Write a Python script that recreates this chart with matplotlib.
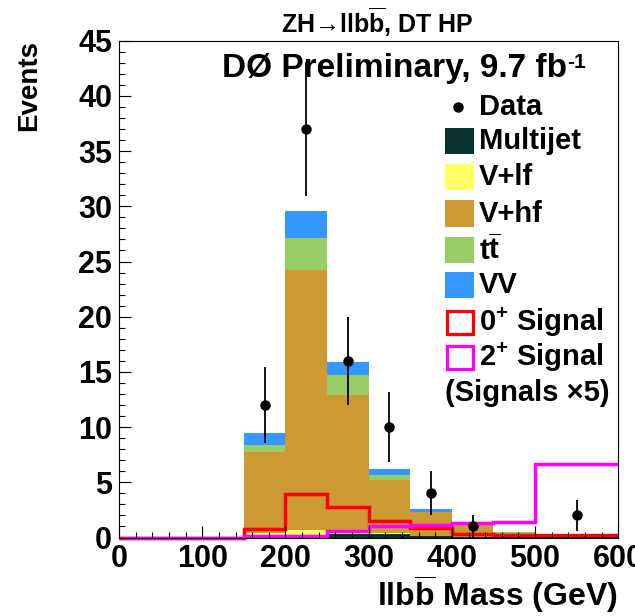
import numpy as np
import matplotlib
matplotlib.use("Agg")
import matplotlib.pyplot as plt
from matplotlib.patches import Rectangle
from matplotlib.lines import Line2D

plt.rcParams['font.family'] = ['Liberation Sans', 'DejaVu Sans']
plt.rcParams['font.weight'] = 'bold'
plt.rcParams['mathtext.fontset'] = 'custom'
plt.rcParams['mathtext.rm'] = 'Liberation Sans:bold'
plt.rcParams['mathtext.bf'] = 'Liberation Sans:bold'
plt.rcParams['mathtext.it'] = 'Liberation Sans:bold'

# bin edges (GeV), last bin is 100 GeV wide
edges = [0, 50, 100, 150, 200, 250, 300, 350, 400, 450, 500, 600]

# backgrounds, stacked bottom -> top
multijet = [0, 0, 0, 0.05, 0.10, 0.30, 0.30, 0.10, 0.05, 0.02, 0.02]
v_lf     = [0, 0, 0, 0.35, 0.60, 0.25, 0.15, 0.05, 0.03, 0.02, 0.02]
v_hf     = [0, 0, 0, 7.37, 23.55, 12.35, 4.79, 2.14, 1.02, 0.41, 0.16]
ttbar    = [0, 0, 0, 0.60, 2.85, 1.85, 0.40, 0.05, 0.02, 0.01, 0.01]
vv       = [0, 0, 0, 1.07, 2.50, 1.15, 0.61, 0.25, 0.03, 0.02, 0.02]

# signals (x5)
sig_0p = [0, 0, 0, 0.76, 3.90, 2.78, 1.50, 0.87, 0.35, 0.27, 0.27]
sig_2p = [0, 0, 0, 0.15, 0.15, 0.60, 1.05, 1.15, 1.28, 1.42, 6.63]

# observed events
data = [0, 0, 0, 12, 37, 16, 10, 4, 1, 0, 2]

bkg_names  = ["Multijet", "V+lf", "V+hf", r"$\mathbf{t\overline{t}}$", "VV"]
bkg_colors = ["#08332f", "#ffff66", "#cc9933", "#99cc66", "#3399ff"]

W, H = 635, 616
fig = plt.figure(figsize=(W / 100, H / 100), dpi=100)
ax = fig.add_axes([119 / W, 1 - 537.5 / H, (618.3 - 119) / W, (537.5 - 40.7) / H])

def px(x, y):
    return x / W, 1 - y / H

# stacked backgrounds
bottom = np.zeros(len(data))
for vals, col in zip([multijet, v_lf, v_hf, ttbar, vv], bkg_colors):
    top = bottom + np.array(vals)
    ax.stairs(top, edges, baseline=bottom, fill=True, color=col, lw=0)
    bottom = top

# signals
ax.stairs(sig_0p, edges, baseline=None, color="#ff0000", lw=2.5, clip_on=False)
ax.stairs(sig_2p, edges, baseline=None, color="#ff00ff", lw=2.5, clip_on=False)

# data points
e = np.array(edges, dtype=float)
centers = 0.5 * (e[:-1] + e[1:])
d = np.array(data, dtype=float)
m = d > 0
ax.errorbar(centers[m], d[m], yerr=np.sqrt(d[m]), fmt='o', color='black',
            ms=6.5, elinewidth=1.3, capsize=0, zorder=5)

ax.set_xlim(0, 600)
ax.set_ylim(0, 45)
ax.set_xticks(np.arange(0, 601, 100))
ax.set_xticks(np.arange(0, 601, 20), minor=True)
ax.set_yticks(np.arange(0, 46, 5))
ax.set_yticks(np.arange(0, 46, 1), minor=True)
ax.tick_params(which='both', direction='in', top=False, right=False, width=0.8)
ax.tick_params(which='major', length=8.5, labelsize=22, pad=5)
ax.tick_params(which='minor', length=4.3)
for lab in ax.get_xticklabels() + ax.get_yticklabels():
    lab.set_fontweight('bold')
for s in ax.spines.values():
    s.set_linewidth(0.8)

# axis titles
fig.text(*px(16, 40), "Events", rotation=90, ha='left', va='top', fontsize=20, fontweight='bold')
fig.text(*px(618, 606), r"ll$\mathbf{b\overline{b}}$ Mass (GeV)", ha='right', va='baseline',
         fontsize=23, fontweight='bold')
fig.text(*px(377, 33), r"ZH→ll$\mathbf{b\overline{b}}$, DT HP", ha='center', va='baseline',
         fontsize=18, fontweight='bold')
lumi = fig.text(*px(222, 77), "DØ Preliminary, 9.7 fb", ha='left', va='baseline',
                fontsize=24, fontweight='bold')
ax.annotate("-1", xy=(1.0, 1.0), xycoords=lumi, ha='left', va='top', fontsize=15,
            fontweight='bold', annotation_clip=False)

# legend
fs_leg = 21
fig.add_artist(Line2D([458 / W], [1 - 107 / H], marker='o', color='black', ms=6.5, ls='none'))
fig.text(*px(479, 107), "Data", ha='left', va='center', fontsize=fs_leg, fontweight='bold')
rows = [141, 177, 213.5, 250, 285]
for y, name, col in zip(rows, bkg_names, bkg_colors):
    fig.add_artist(Rectangle(px(445, y + 13), 29 / W, 26 / H, facecolor=col, edgecolor='none'))
    fig.text(*px(479, y), name, ha='left', va='center', fontsize=fs_leg, fontweight='bold')
for y, name, col in [(322, r"0$^{\mathbf{+}}$ Signal", "#ff0000"),
                     (357.5, r"2$^{\mathbf{+}}$ Signal", "#ff00ff")]:
    fig.add_artist(Rectangle(px(446.5, y + 11.5), 26 / W, 23 / H, facecolor='none',
                             edgecolor=col, lw=2.3))
    fig.text(*px(479, y), name, ha='left', va='center', fontsize=fs_leg, fontweight='bold')
fig.text(*px(445, 393), "(Signals ×5)", ha='left', va='center', fontsize=fs_leg, fontweight='bold')

fig.savefig("out.png", dpi=100)
